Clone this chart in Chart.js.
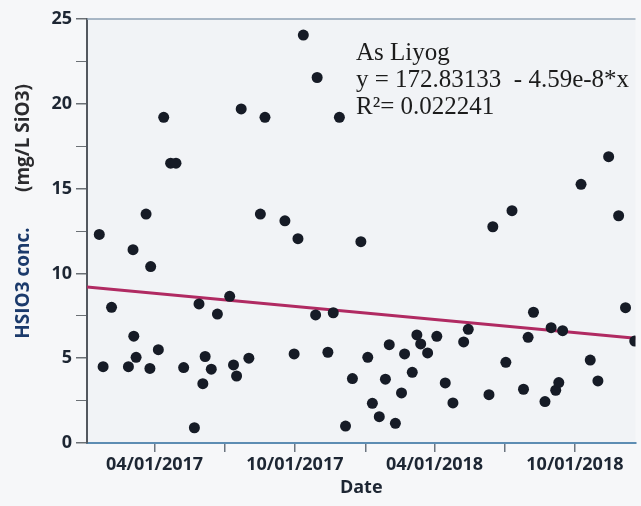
<!DOCTYPE html>
<html>
<head>
<meta charset="utf-8">
<title>As Liyog – HSIO3</title>
<script src="https://cdn.jsdelivr.net/npm/chart.js@4.4.1/dist/chart.umd.min.js"></script>
<style>
  html, body { margin: 0; padding: 0; background: #f6f7f9; overflow: hidden; }
  canvas { display: block; }
</style>
</head>
<body>
<canvas id="chart" width="641" height="506"></canvas>
<script>
// sample dates / HSIO3 values
const sampleDates = [
  '2017-01-19','2017-01-24','2017-02-04','2017-02-26','2017-03-04','2017-03-05','2017-03-08','2017-03-21',
  '2017-03-26','2017-03-27','2017-04-06','2017-04-13','2017-04-22','2017-04-29','2017-05-09','2017-05-23',
  '2017-05-29','2017-06-03','2017-06-06','2017-06-14','2017-06-22','2017-07-08','2017-07-13','2017-07-17',
  '2017-07-23','2017-08-02','2017-08-17','2017-08-23','2017-09-18','2017-09-30','2017-10-05','2017-10-12',
  '2017-10-28','2017-10-30','2017-11-13','2017-11-20','2017-11-28','2017-12-06','2017-12-15','2017-12-26',
  '2018-01-04','2018-01-10','2018-01-19','2018-01-27','2018-02-01','2018-02-09','2018-02-17','2018-02-21',
  '2018-03-03','2018-03-09','2018-03-14','2018-03-23','2018-04-04','2018-04-15','2018-04-25','2018-05-09',
  '2018-05-15','2018-06-11','2018-06-16','2018-07-03','2018-07-11','2018-07-26','2018-08-01','2018-08-08',
  '2018-08-23','2018-08-31','2018-09-06','2018-09-10','2018-09-15','2018-10-09','2018-10-21','2018-10-31',
  '2018-11-14','2018-11-27','2018-12-06','2018-12-18'
];
const sampleValues = [
  12.3, 4.5, 8.0, 4.5, 11.4, 6.3, 5.05, 13.5,
  4.4, 10.4, 5.5, 19.2, 16.5, 16.5, 4.45, 0.9,
  8.2, 3.5, 5.1, 4.35, 7.6, 8.65, 4.6, 3.95,
  19.7, 5.0, 13.5, 19.2, 13.1, 5.25, 12.05, 24.05,
  7.55, 21.55, 5.35, 7.68, 19.2, 1.0, 3.8, 11.87,
  5.05, 2.34, 1.55, 3.76, 5.8, 1.16, 2.95, 5.25,
  4.17, 6.37, 5.84, 5.31, 6.29, 3.54, 2.36, 5.96,
  6.7, 2.85, 12.75, 4.76, 13.7, 3.17, 6.23, 7.71,
  2.44, 6.8, 3.11, 3.56, 6.62, 15.25, 4.89, 3.66,
  16.88, 13.4, 7.98, 6.01
];

// fitted line end points (y = 172.83133 - 4.59e-8*x)
const trendDates  = ['2017-01-03', '2018-12-19'];
const trendValues = [9.2, 6.18];

const tickDates  = ['2017-04-01','2017-07-01','2017-10-01','2018-01-01','2018-04-01','2018-07-01','2018-10-01'];
const tickLabels = ['04/01/2017','','10/01/2017','','04/01/2018','','10/01/2018'];

const axisRange = ['2017-01-03', '2018-12-19'];

const annotation = ['As Liyog', 'y = 172.83133  - 4.59e-8*x', 'R\u00b2= 0.022241'];

// days since 01/01/2017
function dayOf(s) {
  const [y, m, d] = s.split('-').map(Number);
  return (Date.UTC(y, m - 1, d) - Date.UTC(2017, 0, 1)) / 86400000;
}

const TEXT = '#1d2633';
const tickFont = { family: "'Open Sans', sans-serif", size: 18, weight: 'bold' };

// ── background, top frame, y title, fit text ──
const decor = {
  id: 'decor',
  beforeDraw(chart) {
    const { ctx, chartArea: a } = chart;
    ctx.save();
    ctx.fillStyle = '#f6f7f9';
    ctx.fillRect(0, 0, chart.width, chart.height);
    ctx.fillStyle = '#f1f3f6';
    ctx.fillRect(a.left, a.top, a.right - a.left, a.bottom - a.top);
    ctx.restore();
  },
  afterDraw(chart) {
    const { ctx, chartArea: a } = chart;
    ctx.save();
    // top frame line
    ctx.strokeStyle = '#8ea2b5';
    ctx.lineWidth = 1.5;
    ctx.beginPath();
    ctx.moveTo(a.left, a.top);
    ctx.lineTo(a.right, a.top);
    ctx.stroke();

    // y axis title, two colours
    ctx.font = "bold 19px 'Open Sans', sans-serif";
    ctx.textAlign = 'center';
    ctx.textBaseline = 'middle';
    ctx.translate(24, 0);
    ctx.rotate(-Math.PI / 2);
    ctx.fillStyle = '#1b3a6b';
    ctx.fillText('HSIO3 conc.', -283, 0);
    ctx.fillStyle = '#2b2b2e';
    ctx.fillText('(mg/L SiO3)', -138, 0);
    ctx.restore();

    // fit annotation
    ctx.save();
    ctx.font = "25px 'Liberation Serif', serif";
    ctx.fillStyle = '#1c1c1c';
    ctx.textBaseline = 'alphabetic';
    annotation.forEach((t, i) => ctx.fillText(t, 356, 60 + i * 27));
    ctx.restore();
  }
};

new Chart(document.getElementById('chart'), {
  type: 'scatter',
  data: {
    datasets: [
      {
        label: 'HSIO3',
        data: sampleDates.map((d, i) => ({ x: dayOf(d), y: sampleValues[i] })),
        pointRadius: 5.5,
        pointBackgroundColor: '#161b26',
        pointBorderWidth: 0,
        order: 1
      },
      {
        label: 'Fit',
        type: 'line',
        data: trendDates.map((d, i) => ({ x: dayOf(d), y: trendValues[i] })),
        borderColor: '#b02a62',
        borderWidth: 3,
        pointRadius: 0,
        fill: false,
        order: 2
      }
    ]
  },
  options: {
    responsive: false,
    animation: false,
    layout: { padding: { top: 19, right: 0, bottom: 0, left: 0 } },
    plugins: {
      legend: { display: false },
      tooltip: { enabled: false }
    },
    scales: {
      x: {
        type: 'linear',
        position: 'bottom',
        min: dayOf(axisRange[0]),
        max: dayOf(axisRange[1]),
        afterBuildTicks: s => { s.ticks = tickDates.map(d => ({ value: dayOf(d) })); },
        afterFit: s => { s.height = 63; },
        ticks: {
          autoSkip: false,
          maxRotation: 0,
          padding: 2,
          color: TEXT,
          font: tickFont,
          callback: (v, i) => tickLabels[i]
        },
        grid: { drawOnChartArea: false, drawTicks: true, tickLength: 9, color: '#6b7580', lineWidth: 1.5 },
        border: { display: true, color: '#5d8db3', width: 2 },
        title: { display: true, text: 'Date', color: TEXT, font: tickFont, padding: { top: 0, bottom: 7 } }
      },
      y: {
        min: 0,
        max: 25,
        afterFit: s => { s.width = 87; },
        ticks: {
          stepSize: 2.5,
          autoSkip: false,
          padding: 4,
          color: TEXT,
          font: tickFont,
          callback: v => (v % 5 === 0 ? v : '')
        },
        grid: {
          drawOnChartArea: false,
          drawTicks: true,
          tickLength: 11,
          color: '#6b7075',
          lineWidth: c => (c.tick && c.tick.value % 5 === 0 ? 1.5 : 1)
        },
        border: { display: true, color: '#53585f', width: 2 }
      }
    }
  },
  plugins: [decor]
});
</script>
</body>
</html>
